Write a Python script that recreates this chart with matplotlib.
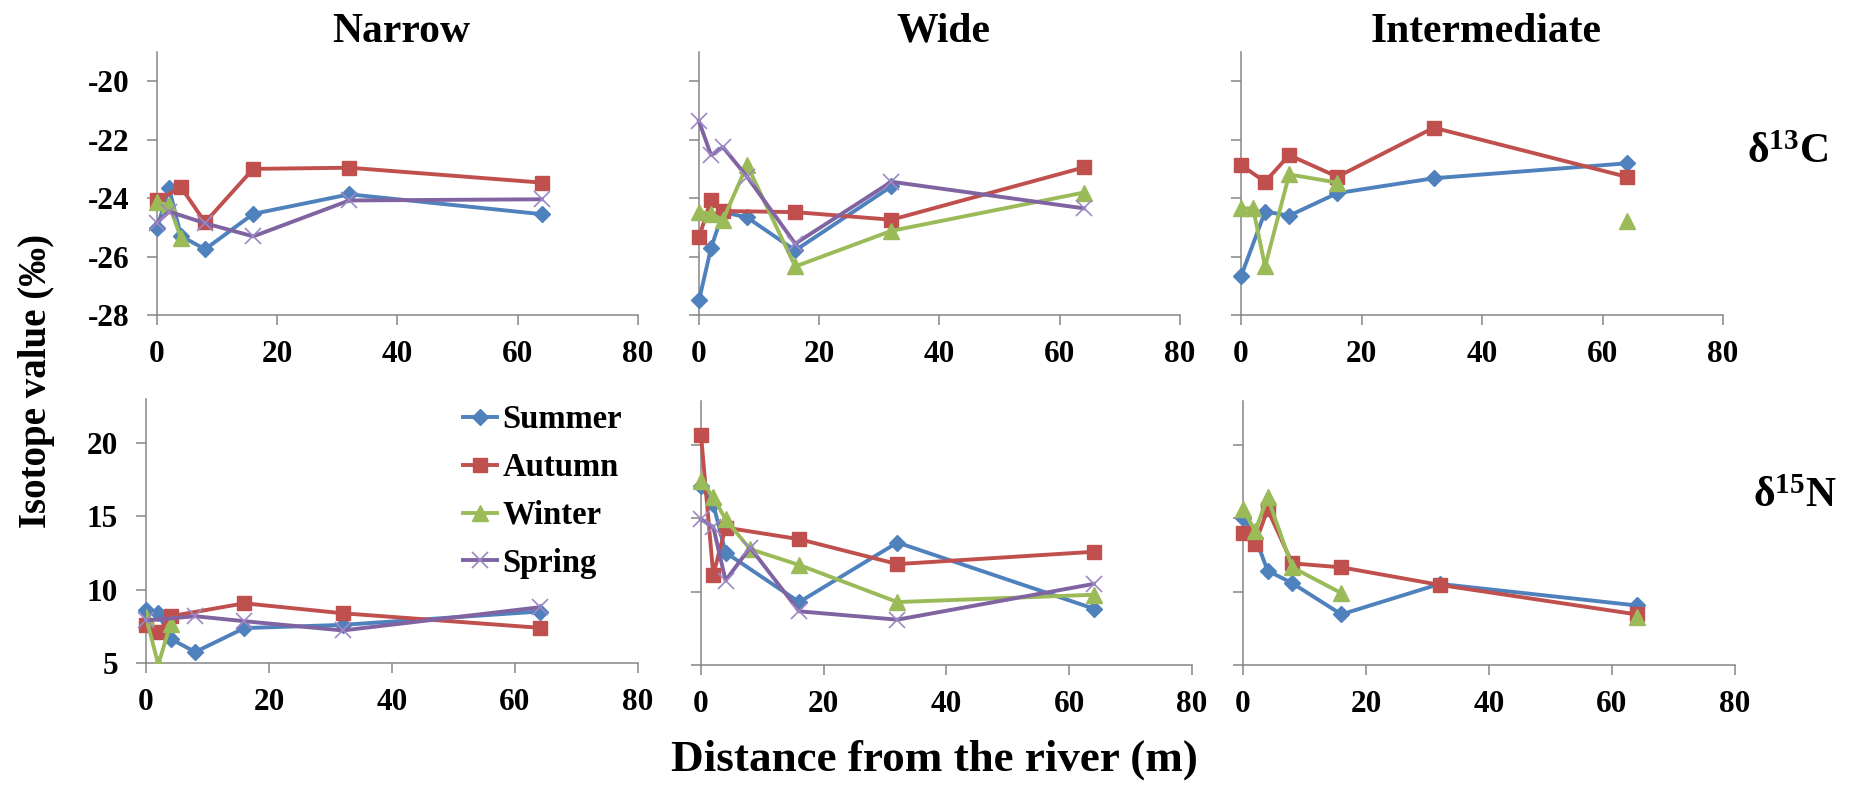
import matplotlib
matplotlib.use("Agg")
import matplotlib.pyplot as plt
import numpy as np

plt.rcParams["font.family"] = ["Liberation Serif", "DejaVu Serif"]
plt.rcParams["font.weight"] = "bold"
plt.rcParams["axes.unicode_minus"] = False
plt.rcParams["mathtext.fontset"] = "custom"
plt.rcParams["mathtext.rm"] = "Liberation Serif:bold"
plt.rcParams["mathtext.it"] = "Liberation Serif:bold"
plt.rcParams["mathtext.bf"] = "Liberation Serif:bold"

# ---------------------------------------------------------------------------
# Data: distance from the river (m); None = not sampled (line continues),
# GAP = missing value that breaks the line.
# ---------------------------------------------------------------------------
GAP = float("nan")
DIST = [0, 2, 4, 8, 16, 32, 64]
SEASONS = ["Summer", "Autumn", "Winter", "Spring"]
SITES = ["Narrow", "Wide", "Intermediate"]

# delta 13C
narrow_c13_summer = [-25.03, -23.66, -25.30, -25.75, -24.54, -23.87, -24.55]
narrow_c13_autumn = [-24.08, None, -23.63, -24.83, -23.00, -22.96, -23.47]
narrow_c13_winter = [-24.15, -24.23, -25.37, None, None, None, None]
narrow_c13_spring = [-24.84, -24.46, None, -24.86, -25.31, -24.08, -24.04]

wide_c13_summer = [-27.50, -25.71, -24.48, -24.66, -25.79, -23.60, None]
wide_c13_autumn = [-25.34, -24.06, -24.44, None, -24.48, -24.74, -22.95]
wide_c13_winter = [-24.46, -24.54, -24.74, -22.87, -26.34, -25.12, -23.81]
wide_c13_spring = [-21.37, -22.53, -22.26, -23.27, -25.56, -23.44, -24.35]

inter_c13_summer = [-26.68, None, -24.46, -24.60, -23.83, -23.32, -22.81]
inter_c13_autumn = [-22.87, None, -23.44, -22.53, -23.27, -21.59, -23.27]
inter_c13_winter = [-24.35, -24.35, -26.34, -23.19, -23.47, GAP, -24.78]
inter_c13_spring = [None, None, None, None, None, None, None]

# delta 15N
narrow_n15_summer = [8.62, 8.39, 6.65, 5.75, 7.38, 7.60, 8.51]
narrow_n15_autumn = [7.60, 7.10, 8.19, None, 9.07, 8.39, 7.40]
narrow_n15_winter = [8.12, 4.90, 7.67, None, None, None, None]
narrow_n15_spring = [7.90, None, None, 8.19, 7.85, 7.22, 8.80]

wide_n15_summer = [17.19, 15.95, 12.67, None, 9.29, 13.35, 8.84]
wide_n15_autumn = [20.69, 11.14, 14.37, None, 13.58, 11.88, 12.72]
wide_n15_winter = [17.57, 16.44, 14.93, 12.90, 11.82, 9.29, 9.79]
wide_n15_spring = [14.93, 14.41, 10.76, 13.01, 8.66, 8.09, 10.53]

inter_n15_summer = [15.05, 13.69, 11.43, 10.58, 8.45, 10.53, 9.06]
inter_n15_autumn = [14.03, 13.28, 15.61, 11.93, 11.66, 10.46, 8.45]
inter_n15_winter = [15.61, 14.14, 16.44, 11.66, 9.90, GAP, 8.27]
inter_n15_spring = [None, None, None, None, None, None, None]

# horizontal spread of the Summer samples at the intermediate site (15N)
inter_n15_summer_xerr = [0.0, 0.45, 0.45, 0.45, 0.45, 0.45, 0.45]

C13 = {
    "Narrow": [narrow_c13_summer, narrow_c13_autumn, narrow_c13_winter, narrow_c13_spring],
    "Wide": [wide_c13_summer, wide_c13_autumn, wide_c13_winter, wide_c13_spring],
    "Intermediate": [inter_c13_summer, inter_c13_autumn, inter_c13_winter, inter_c13_spring],
}
N15 = {
    "Narrow": [narrow_n15_summer, narrow_n15_autumn, narrow_n15_winter, narrow_n15_spring],
    "Wide": [wide_n15_summer, wide_n15_autumn, wide_n15_winter, wide_n15_spring],
    "Intermediate": [inter_n15_summer, inter_n15_autumn, inter_n15_winter, inter_n15_spring],
}

C13_TICKS = [-28, -26, -24, -22, -20]
N15_TICKS = [5, 10, 15, 20]
X_TICKS = [0, 20, 40, 60, 80]

STYLE = {
    "Summer": dict(color="#4F81BD", marker="D", markersize=8),
    "Autumn": dict(color="#C0504D", marker="s", markersize=9.5),
    "Winter": dict(color="#9BBB59", marker="^", markersize=11),
    "Spring": dict(color="#8064A2", marker="x", markersize=11,
                   markeredgewidth=1.2, markeredgecolor="#9C88C4"),
}

AXIS_GREY = "#868686"

W, H = 1856, 799
fig = plt.figure(figsize=(W / 100, H / 100), dpi=100)
fig.patch.set_facecolor("white")


def add_axes_px(left, top, right, bottom):
    return fig.add_axes([left / W, 1 - bottom / H, (right - left) / W, (bottom - top) / H])


TOP_ROW = [(157, 52, 638, 315), (699, 52, 1180, 315), (1241, 52, 1723, 315)]
BOTTOM_ROW = [(146, 399, 638, 663), (701, 401, 1192, 665), (1243, 401, 1735, 665)]


def draw_series(ax, values, season, clip=False):
    xs = [d for d, v in zip(DIST, values) if v is not None]
    ys = [v for v in values if v is not None]
    if not xs:
        return None
    (line,) = ax.plot(xs, ys, linewidth=2.8, label=season, clip_on=clip,
                      **STYLE[season])
    return line


def style_axes(ax, ylim, yticks, show_ylabels):
    ax.set_xlim(0, 80)
    ax.set_ylim(*ylim)
    ax.set_xticks(X_TICKS)
    ax.set_yticks(yticks)
    for side in ("top", "right"):
        ax.spines[side].set_visible(False)
    for side in ("left", "bottom"):
        ax.spines[side].set_color(AXIS_GREY)
        ax.spines[side].set_linewidth(1.1)
        ax.spines[side].set_zorder(0.5)
    ax.tick_params(axis="both", direction="out", length=7, width=1.1,
                   color=AXIS_GREY, labelsize=22.5, labelcolor="black")
    ax.tick_params(axis="x", pad=11)
    ax.tick_params(axis="y", pad=13, labelleft=show_ylabels)
    for lab in ax.get_xticklabels() + ax.get_yticklabels():
        lab.set_fontweight("bold")


legend_handles = None
for col, site in enumerate(SITES):
    ax = add_axes_px(*TOP_ROW[col])
    for season, vals in zip(SEASONS, C13[site]):
        draw_series(ax, vals, season)
    style_axes(ax, (-28, -19), C13_TICKS, col == 0)

    ax2 = add_axes_px(*BOTTOM_ROW[col])
    if site == "Intermediate":
        xe = [d for d, v in zip(DIST, inter_n15_summer) if v is not None]
        ye = [v for v in inter_n15_summer if v is not None]
        ax2.errorbar(xe, ye, xerr=inter_n15_summer_xerr, fmt="none",
                     ecolor="black", elinewidth=1.0, capsize=3.5,
                     capthick=1.0, zorder=1.5)
    handles = []
    for season, vals in zip(SEASONS, N15[site]):
        # the narrow-site winter dip runs below the axis floor and is cut there
        clip = site == "Narrow" and season == "Winter"
        h = draw_series(ax2, vals, season, clip=clip)
        handles.append(h)
    style_axes(ax2, (5, 23), N15_TICKS, col == 0)
    if col == 0:
        legend_handles = handles
        legend_ax = ax2

legend_ax.legend(legend_handles, SEASONS, loc="upper left",
                 bbox_to_anchor=(463 / W, 1 - 404 / H),
                 bbox_transform=fig.transFigure, frameon=False,
                 borderpad=0, borderaxespad=0, handlelength=1.05,
                 handletextpad=0.15, labelspacing=0.52,
                 prop=dict(family="Liberation Serif", weight="bold", size=23.5))

# Column titles
for site, (l, t, r, b) in zip(SITES, TOP_ROW):
    fig.text((l + r) / 2 / W + 4 / W, 1 - 42 / H, site, ha="center",
             va="baseline", fontsize=30, fontweight="bold")

# Row labels
fig.text(1747 / W, 1 - 163 / H, "δ$^{13}$C", ha="left", va="baseline",
         fontsize=30, fontweight="bold")
fig.text(1753 / W, 1 - 507 / H, "δ$^{15}$N", ha="left", va="baseline",
         fontsize=30, fontweight="bold")

# Axis labels
fig.text(37 / W, 1 - 381 / H, "Isotope value (‰)", rotation=90, ha="center",
         va="center", fontsize=28, fontweight="bold")
fig.text(934 / W, 1 - 771 / H, "Distance from the river (m)", ha="center",
         va="baseline", fontsize=32.5, fontweight="bold")

fig.savefig("out.png", dpi=100, facecolor="white")
